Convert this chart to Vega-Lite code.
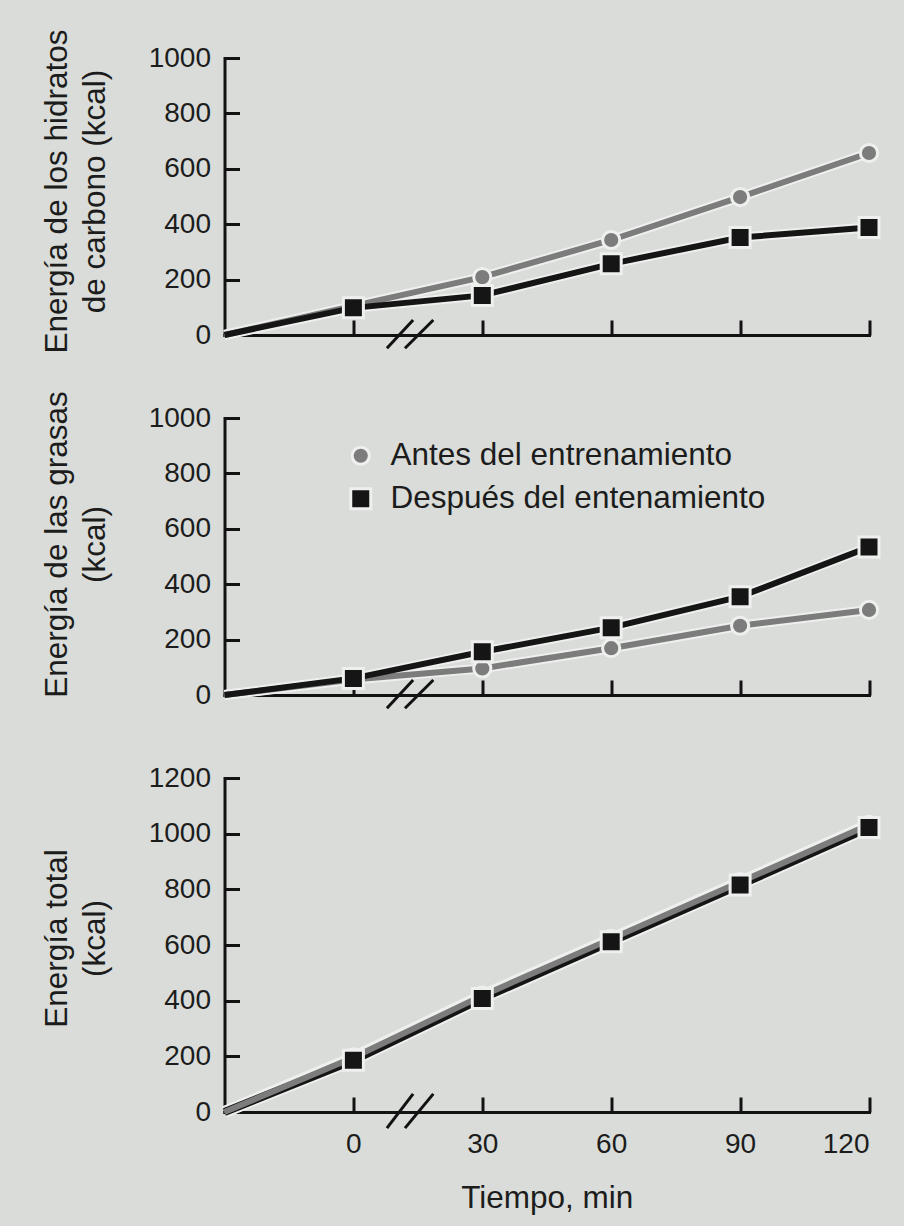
{
  "$schema": "https://vega.github.io/schema/vega-lite/v6.json",
  "background": "#d9dcd9",
  "padding": {"left": 40.5, "top": 29, "right": 11, "bottom": 14},
  "bounds": "flush",
  "spacing": 83,
  "datasets": {
    "d": [
      {"panel": "cho", "serie": "Antes del entrenamiento", "t": -30, "v": 0},
      {"panel": "cho", "serie": "Antes del entrenamiento", "t": 0, "v": 105},
      {"panel": "cho", "serie": "Antes del entrenamiento", "t": 30, "v": 209},
      {"panel": "cho", "serie": "Antes del entrenamiento", "t": 60, "v": 343},
      {"panel": "cho", "serie": "Antes del entrenamiento", "t": 90, "v": 498},
      {"panel": "cho", "serie": "Antes del entrenamiento", "t": 120, "v": 657},
      {"panel": "cho", "serie": "Después del entenamiento", "t": -30, "v": 0},
      {"panel": "cho", "serie": "Después del entenamiento", "t": 0, "v": 98},
      {"panel": "cho", "serie": "Después del entenamiento", "t": 30, "v": 143},
      {"panel": "cho", "serie": "Después del entenamiento", "t": 60, "v": 257},
      {"panel": "cho", "serie": "Después del entenamiento", "t": 90, "v": 352},
      {"panel": "cho", "serie": "Después del entenamiento", "t": 120, "v": 388},
      {"panel": "fat", "serie": "Antes del entrenamiento", "t": -30, "v": 0},
      {"panel": "fat", "serie": "Antes del entrenamiento", "t": 0, "v": 56},
      {"panel": "fat", "serie": "Antes del entrenamiento", "t": 30, "v": 96},
      {"panel": "fat", "serie": "Antes del entrenamiento", "t": 60, "v": 169},
      {"panel": "fat", "serie": "Antes del entrenamiento", "t": 90, "v": 250},
      {"panel": "fat", "serie": "Antes del entrenamiento", "t": 120, "v": 307},
      {"panel": "fat", "serie": "Después del entenamiento", "t": -30, "v": 0},
      {"panel": "fat", "serie": "Después del entenamiento", "t": 0, "v": 60},
      {"panel": "fat", "serie": "Después del entenamiento", "t": 30, "v": 156},
      {"panel": "fat", "serie": "Después del entenamiento", "t": 60, "v": 243},
      {"panel": "fat", "serie": "Después del entenamiento", "t": 90, "v": 355},
      {"panel": "fat", "serie": "Después del entenamiento", "t": 120, "v": 534},
      {"panel": "tot", "serie": "Antes del entrenamiento", "t": -30, "v": 0},
      {"panel": "tot", "serie": "Antes del entrenamiento", "t": 0, "v": 196},
      {"panel": "tot", "serie": "Antes del entrenamiento", "t": 30, "v": 418},
      {"panel": "tot", "serie": "Antes del entrenamiento", "t": 60, "v": 622},
      {"panel": "tot", "serie": "Antes del entrenamiento", "t": 90, "v": 826},
      {"panel": "tot", "serie": "Antes del entrenamiento", "t": 120, "v": 1032},
      {"panel": "tot", "serie": "Después del entenamiento", "t": -30, "v": 0},
      {"panel": "tot", "serie": "Después del entenamiento", "t": 0, "v": 186},
      {"panel": "tot", "serie": "Después del entenamiento", "t": 30, "v": 408},
      {"panel": "tot", "serie": "Después del entenamiento", "t": 60, "v": 612},
      {"panel": "tot", "serie": "Después del entenamiento", "t": 90, "v": 816},
      {"panel": "tot", "serie": "Después del entenamiento", "t": 120, "v": 1022}
    ],
    "brk": [
      {"panel": "cho", "t": 7.8, "v": -48, "t2": 13.9, "v2": 54},
      {"panel": "cho", "t": 12.0, "v": -48, "t2": 18.6, "v2": 54},
      {"panel": "fat", "t": 7.8, "v": -48, "t2": 13.9, "v2": 54},
      {"panel": "fat", "t": 12.0, "v": -48, "t2": 18.6, "v2": 54},
      {"panel": "tot", "t": 7.8, "v": -58, "t2": 13.9, "v2": 65},
      {"panel": "tot", "t": 12.0, "v": -58, "t2": 18.6, "v2": 65}
    ]
  },
  "vconcat": [
    {
      "width": 644.5, "height": 277,
      "encoding": {
        "x": {"field": "t", "type": "quantitative", "scale": {"domain": [-30, 120], "nice": false, "zero": false},
              "axis": {"values": [0, 30, 60, 90, 120], "labels": false, "title": null}},
        "y": {"field": "v", "type": "quantitative", "scale": {"domain": [0, 1000], "nice": false},
              "axis": {"values": [0, 200, 400, 600, 800, 1000], "title": ["Energía de los hidratos", "de carbono (kcal)"], "titleY": 133}}
      },
      "layer": [
        {"data": {"name": "d"}, "transform": [{"filter": "datum.panel == 'cho'"}],
         "mark": {"type": "line", "strokeWidth": 10, "color": "#eef0ee"}, "encoding": {"detail": {"field": "serie"}}},
        {"data": {"name": "d"}, "transform": [{"filter": "datum.panel == 'cho'"}],
         "mark": {"type": "line", "strokeWidth": 6},
         "encoding": {"stroke": {"field": "serie", "type": "nominal", "legend": null,
                                 "scale": {"domain": ["Antes del entrenamiento", "Después del entenamiento"], "range": ["#7c7c7c", "#151515"]}}}},
        {"data": {"name": "d"}, "transform": [{"filter": "datum.panel == 'cho' && datum.t >= 0"}],
         "mark": {"type": "point", "filled": true, "opacity": 1, "size": 400, "stroke": "#eef0ee", "strokeWidth": 3},
         "encoding": {"color": {"field": "serie", "type": "nominal", "title": null}, "shape": {"field": "serie", "type": "nominal", "title": null}}},
        {"data": {"name": "brk"}, "transform": [{"filter": "datum.panel == 'cho'"}],
         "mark": {"type": "rule", "strokeWidth": 3, "color": "#111111"},
         "encoding": {"x2": {"field": "t2"}, "y2": {"field": "v2"}}}
      ]
    },
    {
      "width": 644.5, "height": 277,
      "encoding": {
        "x": {"field": "t", "type": "quantitative", "scale": {"domain": [-30, 120], "nice": false, "zero": false},
              "axis": {"values": [0, 30, 60, 90, 120], "labels": false, "title": null}},
        "y": {"field": "v", "type": "quantitative", "scale": {"domain": [0, 1000], "nice": false},
              "axis": {"values": [0, 200, 400, 600, 800, 1000], "title": ["Energía de las grasas", "(kcal)"], "titleY": 126}}
      },
      "layer": [
        {"data": {"name": "d"}, "transform": [{"filter": "datum.panel == 'fat'"}],
         "mark": {"type": "line", "strokeWidth": 10, "color": "#eef0ee"}, "encoding": {"detail": {"field": "serie"}}},
        {"data": {"name": "d"}, "transform": [{"filter": "datum.panel == 'fat'"}],
         "mark": {"type": "line", "strokeWidth": 6},
         "encoding": {"stroke": {"field": "serie", "type": "nominal", "legend": null,
                                 "scale": {"domain": ["Antes del entrenamiento", "Después del entenamiento"], "range": ["#7c7c7c", "#151515"]}}}},
        {"data": {"name": "d"}, "transform": [{"filter": "datum.panel == 'fat' && datum.t >= 0"}],
         "mark": {"type": "point", "filled": true, "opacity": 1, "size": 400, "stroke": "#eef0ee", "strokeWidth": 3},
         "encoding": {"color": {"field": "serie", "type": "nominal", "title": null}, "shape": {"field": "serie", "type": "nominal", "title": null}}},
        {"data": {"name": "brk"}, "transform": [{"filter": "datum.panel == 'fat'"}],
         "mark": {"type": "rule", "strokeWidth": 3, "color": "#111111"},
         "encoding": {"x2": {"field": "t2"}, "y2": {"field": "v2"}}}
      ]
    },
    {
      "width": 644.5, "height": 334,
      "encoding": {
        "x": {"field": "t", "type": "quantitative", "scale": {"domain": [-30, 120], "nice": false, "zero": false},
              "axis": {"values": [0, 30, 60, 90, 120], "labels": true, "title": "Tiempo, min", "labelPadding": 33, "titlePadding": 24}},
        "y": {"field": "v", "type": "quantitative", "scale": {"domain": [0, 1200], "nice": false},
              "axis": {"values": [0, 200, 400, 600, 800, 1000, 1200], "title": ["Energía total", "(kcal)"], "titleY": 160}}
      },
      "layer": [
        {"data": {"name": "d"}, "transform": [{"filter": "datum.panel == 'tot'"}],
         "mark": {"type": "line", "strokeWidth": 12, "color": "#eef0ee"}, "encoding": {"detail": {"field": "serie"}}},
        {"data": {"name": "d"}, "transform": [{"filter": "datum.panel == 'tot' && datum.serie == 'Después del entenamiento'"}],
         "mark": {"type": "line", "strokeWidth": 8},
         "encoding": {"stroke": {"field": "serie", "type": "nominal", "legend": null,
                                 "scale": {"domain": ["Antes del entrenamiento", "Después del entenamiento"], "range": ["#7c7c7c", "#151515"]}}}},
        {"data": {"name": "d"}, "transform": [{"filter": "datum.panel == 'tot' && datum.serie == 'Antes del entrenamiento'"}],
         "mark": {"type": "line", "strokeWidth": 6},
         "encoding": {"stroke": {"field": "serie", "type": "nominal", "legend": null,
                                 "scale": {"domain": ["Antes del entrenamiento", "Después del entenamiento"], "range": ["#7c7c7c", "#151515"]}}}},
        {"data": {"name": "d"}, "transform": [{"filter": "datum.panel == 'tot' && datum.t >= 0"}],
         "mark": {"type": "point", "filled": true, "opacity": 1, "size": 400, "stroke": "#eef0ee", "strokeWidth": 3},
         "encoding": {"color": {"field": "serie", "type": "nominal", "title": null}, "shape": {"field": "serie", "type": "nominal", "title": null}}},
        {"data": {"name": "brk"}, "transform": [{"filter": "datum.panel == 'tot'"}],
         "mark": {"type": "rule", "strokeWidth": 3, "color": "#111111"},
         "encoding": {"x2": {"field": "t2"}, "y2": {"field": "v2"}}}
      ]
    }
  ],
  "resolve": {"scale": {"y": "independent", "x": "independent"}},
  "config": {
    "view": {"stroke": null},
    "font": "Liberation Sans",
    "range": {
      "category": ["#7c7c7c", "#151515"],
      "symbol": ["M0.86,0A0.86,0.86,0,1,1,-0.86,0A0.86,0.86,0,1,1,0.86,0Z", "M-1,-1H1V1H-1Z"]
    },
    "legend": {
      "orient": "none", "legendX": 120.5, "legendY": 382, "padding": 0,
      "labelFontSize": 31.5, "labelFont": "Liberation Sans", "labelColor": "#1c1c1c",
      "rowPadding": 10, "labelOffset": 14, "symbolSize": 400,
      "symbolStrokeColor": "#eef0ee", "symbolStrokeWidth": 3, "labelLimit": 600
    },
    "axis": {
      "grid": false, "format": "d",
      "domainColor": "#121212", "domainWidth": 3, "domainCap": "square",
      "tickColor": "#121212", "tickWidth": 3, "tickSize": -15,
      "labelFont": "Liberation Sans", "labelFontSize": 28, "labelColor": "#1c1c1c", "labelPadding": 29,
      "titleFont": "Liberation Sans", "titleFontSize": 31.5, "titleFontWeight": "normal", "titleColor": "#1c1c1c",
      "titleLineHeight": 38, "titlePadding": 37
    }
  }
}
